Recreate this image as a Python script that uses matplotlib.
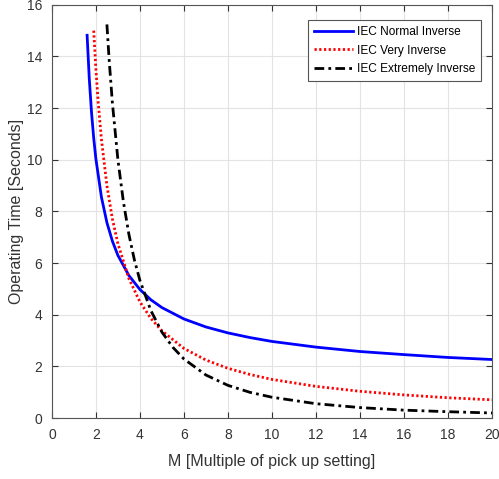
import matplotlib
matplotlib.use("Agg")
import matplotlib.pyplot as plt

plt.rcParams['font.family'] = ['Liberation Sans', 'DejaVu Sans']

# values (M, operating time in s)
m_normal = [1.6, 1.7, 1.8, 1.9, 2.0, 2.25, 2.5, 2.75, 3.0, 3.5, 4.0, 4.5, 5.0,
            6.0, 7.0, 8.0, 9.0, 10.0, 12.0, 14.0, 16.0, 18.0, 20.0]
t_normal = [14.82, 13.12, 11.84, 10.84, 10.03, 8.56, 7.57, 6.85, 6.30, 5.52,
            4.98, 4.58, 4.28, 3.84, 3.53, 3.30, 3.12, 2.97, 2.75, 2.58, 2.46,
            2.35, 2.27]

m_very = [1.9, 2.0, 2.1, 2.25, 2.5, 2.75, 3.0, 3.5, 4.0, 4.5, 5.0, 6.0, 7.0,
          8.0, 9.0, 10.0, 12.0, 14.0, 16.0, 18.0, 20.0]
t_very = [15.0, 13.5, 12.27, 10.8, 9.0, 7.71, 6.75, 5.4, 4.5, 3.86, 3.38,
          2.7, 2.25, 1.93, 1.69, 1.5, 1.23, 1.04, 0.90, 0.79, 0.71]

m_extreme = [2.5, 2.6, 2.75, 3.0, 3.25, 3.5, 3.75, 4.0, 4.5, 5.0, 5.5, 6.0,
             7.0, 8.0, 9.0, 10.0, 12.0, 14.0, 16.0, 18.0, 20.0]
t_extreme = [15.24, 13.89, 12.19, 10.0, 8.37, 7.11, 6.12, 5.33, 4.16, 3.33,
             2.74, 2.29, 1.67, 1.27, 1.0, 0.81, 0.56, 0.41, 0.31, 0.25, 0.20]

fig = plt.figure(figsize=(4.99, 4.79), dpi=100)
ax = fig.add_axes([0.104, 0.127, 0.882, 0.863])

ax.plot(m_normal, t_normal, color='#0000ff', lw=2, label='IEC Normal Inverse')
ax.plot(m_very, t_very, color='red', lw=2, ls=(0, (0.8, 0.9)),
        label='IEC Very Inverse')
ax.plot(m_extreme, t_extreme, color='black', lw=2, ls=(0, (3.5, 1.5, 1, 1.5)),
        label='IEC Extremely Inverse')

ax.set_xlim(0, 20)
ax.set_ylim(0, 16)
ax.set_xticks(range(0, 21, 2))
ax.set_yticks(range(0, 17, 2))
ax.grid(True, color='#e3e3e3', lw=0.8)
ax.tick_params(direction='in', top=True, right=True, labelsize=10,
               colors='#333333', length=4, pad=7)
for s in ax.spines.values():
    s.set_color('#555555')
    s.set_linewidth(0.8)

ax.set_xlabel('M [Multiple of pick up setting]', fontsize=11.5,
              color='#333333', labelpad=9)
ax.set_ylabel('Operating Time [Seconds]', fontsize=11.5, color='#333333',
              labelpad=2)

leg = ax.legend(loc='upper right', fontsize=8.6, fancybox=False,
                edgecolor='#555555', framealpha=1, handlelength=3.3,
                handletextpad=0.3, borderpad=0.5, labelspacing=0.55,
                borderaxespad=0, bbox_to_anchor=(0.975, 0.963))
leg.get_frame().set_linewidth(0.8)

fig.savefig('out.png', dpi=100)
